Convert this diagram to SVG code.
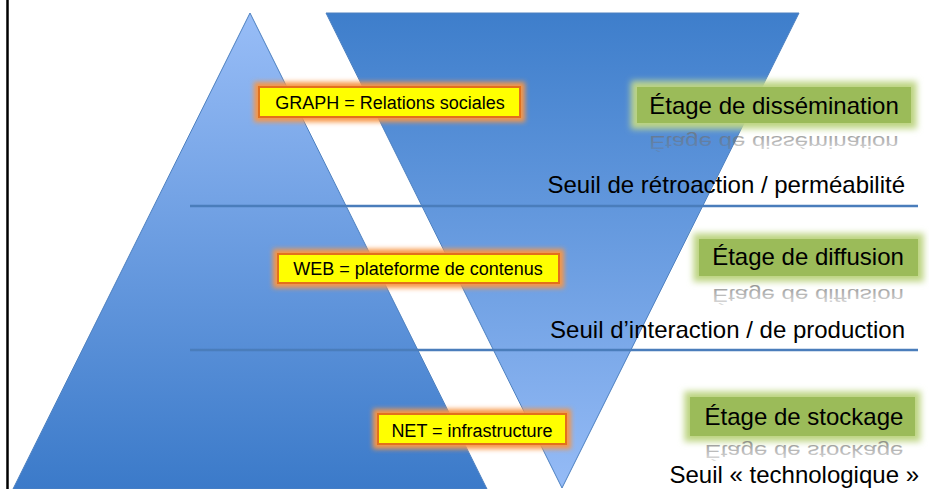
<svg xmlns="http://www.w3.org/2000/svg" width="929" height="489" viewBox="0 0 929 489">
  <defs>
    <linearGradient id="gUp" x1="0" y1="13" x2="0" y2="489" gradientUnits="userSpaceOnUse">
      <stop offset="0" stop-color="#98bdf7"/>
      <stop offset="1" stop-color="#3b7ac9"/>
    </linearGradient>
    <linearGradient id="gDown" x1="0" y1="13" x2="0" y2="488" gradientUnits="userSpaceOnUse">
      <stop offset="0" stop-color="#3e7ecb"/>
      <stop offset="1" stop-color="#95bbf6"/>
    </linearGradient>
    <linearGradient id="gRefl" x1="0" y1="0" x2="0" y2="1">
      <stop offset="0" stop-color="#707070" stop-opacity="0.2"/>
      <stop offset="1" stop-color="#707070" stop-opacity="0.75"/>
    </linearGradient>
    <filter id="fGlowO" x="-20%" y="-50%" width="140%" height="200%">
      <feGaussianBlur stdDeviation="2.5"/>
    </filter>
    <filter id="fGlowG" x="-20%" y="-50%" width="140%" height="200%">
      <feGaussianBlur stdDeviation="3"/>
    </filter>
  </defs>
  <style>
    .lbl { font-family: "Liberation Sans", Arial, sans-serif; font-size: 18px; fill: #000; text-anchor: middle; }
    .stage { font-family: "Liberation Sans", Arial, sans-serif; font-size: 24px; fill: #000; text-anchor: middle; }
    .refl { font-family: "Liberation Sans", Arial, sans-serif; font-size: 24px; fill: url(#gRefl); text-anchor: middle; }
    .seuil { font-family: "Liberation Sans", Arial, sans-serif; font-size: 24px; fill: #000; text-anchor: end; }
    .ybox { fill: #ffff00; stroke: #e2701c; stroke-width: 2; }
    .yglow { fill: #f79646; stroke: #f79646; stroke-width: 4; }
    .gbox { fill: #9bbb59; }
    .gglow { fill: #b9d27c; stroke: #c6da92; stroke-width: 4; }
    .sep { stroke: #4a7dbb; stroke-width: 2.5; fill: none; }
  </style>

  <rect x="0" y="0" width="929" height="489" fill="#ffffff"/>
  <line x1="7.5" y1="0" x2="7.5" y2="489" stroke="#000" stroke-width="2.5"/>

  <g id="pyramide">
    <polygon points="250,13 13,489 487,489" fill="url(#gUp)" stroke="#4d80c0" stroke-width="1"/>
  </g>
  <g id="entonnoir">
    <polygon points="326,13 799,13 562,488" fill="url(#gDown)" stroke="#4d80c0" stroke-width="1"/>
  </g>

  <g id="connectors">
    <line class="sep" x1="190" y1="206" x2="918" y2="206"/>
    <line class="sep" x1="190" y1="350" x2="918" y2="350"/>
  </g>

  <g id="graph">
    <rect class="yglow" x="256" y="84" width="267" height="36" filter="url(#fGlowO)"/>
    <rect class="ybox" x="259" y="87" width="261" height="30"/>
    <text class="lbl" x="390" y="109">GRAPH = Relations sociales</text>
  </g>
  <g id="web">
    <rect class="yglow" x="275" y="251" width="287" height="35" filter="url(#fGlowO)"/>
    <rect class="ybox" x="278" y="254" width="281" height="29"/>
    <text class="lbl" x="418" y="275">WEB = plateforme de contenus</text>
  </g>
  <g id="net">
    <rect class="yglow" x="375" y="411" width="194" height="36" filter="url(#fGlowO)"/>
    <rect class="ybox" x="378" y="414" width="188" height="30"/>
    <text class="lbl" x="472" y="437">NET = infrastructure</text>
  </g>

  <g id="etage-dissemination">
    <rect class="gglow" x="633" y="83" width="282" height="44" filter="url(#fGlowG)"/>
    <rect class="gbox" x="637" y="87" width="274" height="36"/>
    <text class="stage" x="774" y="114">Étage de dissémination</text>
    <text class="refl" transform="translate(774,136) scale(1,-0.78)" x="0" y="0">Étage de dissémination</text>
  </g>
  <g id="etage-diffusion">
    <rect class="gglow" x="695" y="235" width="227" height="45" filter="url(#fGlowG)"/>
    <rect class="gbox" x="699" y="239" width="219" height="37"/>
    <text class="stage" x="808" y="265">Étage de diffusion</text>
    <text class="refl" transform="translate(808,289) scale(1,-0.78)" x="0" y="0">Étage de diffusion</text>
  </g>
  <g id="etage-stockage">
    <rect class="gglow" x="686" y="393" width="233" height="47" filter="url(#fGlowG)"/>
    <rect class="gbox" x="690" y="397" width="225" height="39"/>
    <text class="stage" x="804" y="425">Étage de stockage</text>
    <text class="refl" transform="translate(804,445) scale(1,-0.78)" x="0" y="0">Étage de stockage</text>
  </g>

  <g id="seuils">
    <text class="seuil" x="905" y="193">Seuil de rétroaction / perméabilité</text>
    <text class="seuil" x="905" y="338">Seuil d’interaction / de production</text>
    <text class="seuil" x="919" y="483">Seuil « technologique »</text>
  </g>
</svg>
